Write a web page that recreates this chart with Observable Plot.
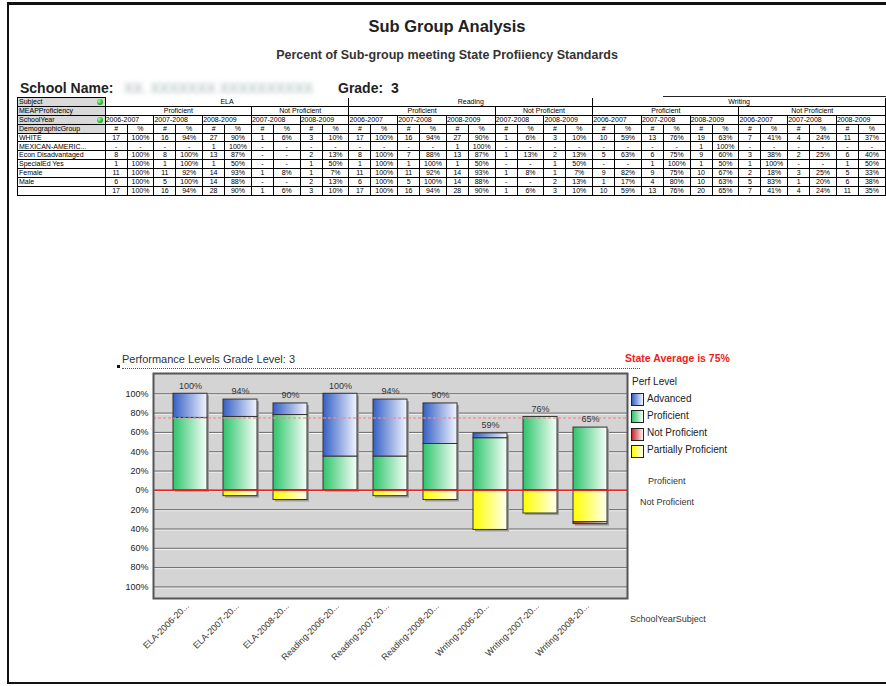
<!DOCTYPE html>
<html><head><meta charset="utf-8">
<script src="https://cdn.jsdelivr.net/npm/d3@7"></script>
<script src="https://cdn.jsdelivr.net/npm/@observablehq/plot@0.6"></script>
<style>
body{margin:0;width:886px;height:686px;overflow:hidden;background:#fff;font-family:"Liberation Sans",Arial,sans-serif;position:relative;color:#111}
.abs{position:absolute;white-space:nowrap}
#frame{position:absolute;left:7px;top:2px;width:900px;height:677px;border-left:2px solid #111;border-top:3px solid #111;border-bottom:2px solid #111}
#tbl{position:absolute;left:17px;top:97px;border-collapse:collapse;table-layout:fixed;font-size:7px;line-height:7.6px;color:#000}
#tbl td{border:1px solid #000;padding:0;height:7.9px;text-align:center;white-space:nowrap;overflow:hidden}
#tbl td.lab{text-align:left;padding-left:1px;position:relative}
#tbl td.hl{background:#d9d9d9}
#tbl td.subj{border-top:none;border-bottom:none}
.dot{position:absolute;right:2px;top:1px;width:6px;height:6px;border-radius:50%;background:radial-gradient(circle at 35% 35%,#9f9,#1a1 70%)}
.sw{position:absolute;left:631px;width:11px;height:11px;border:1px solid #222}
.lg{position:absolute;left:647px;font-size:10px;color:#222}
</style></head><body>
<div id="frame"></div>
<div class="abs" style="left:0;width:894px;text-align:center;top:17px;font-size:16.5px;font-weight:bold;color:#222">Sub Group Analysis</div>
<div class="abs" style="left:0;width:894px;text-align:center;top:48px;font-size:12.5px;font-weight:bold;color:#333">Percent of Sub-group meeting State Profiiency Standards</div>
<div class="abs" style="left:20px;top:80px;font-size:14px;font-weight:bold;color:#222">School Name:</div>
<div class="abs" style="left:124px;top:80px;font-size:14px;color:#9aa;filter:blur(2.5px)">XX. XXXXXXX XXXXXXXXXX</div>
<div class="abs" style="left:338px;top:80px;font-size:14px;font-weight:bold;color:#222">Grade:&nbsp; 3</div>
<div class="abs" style="left:663px;top:96px;width:230px;height:1px;background:#222"></div>
<table id="tbl"></table>

<div class="abs" style="left:117px;top:365px;width:3px;height:3px;background:#111"></div>
<div class="abs" style="left:122px;top:353px;font-size:11px;color:#333;width:518px;border-bottom:1px dotted #555;height:15px">Performance Levels Grade Level: 3</div>
<div class="abs" style="left:625px;top:352px;font-size:10.5px;font-weight:bold;color:#f01c1c">State Average is 75%</div>
<div id="chart" style="position:absolute;left:0;top:340px"></div>
<div class="lg" style="left:632px;top:376px">Perf Level</div>
<div id="legend"></div>
<div class="abs" style="left:648px;top:476px;font-size:9px;color:#333">Proficient</div>
<div class="abs" style="left:640px;top:497px;font-size:9px;color:#333">Not Proficient</div>
<div class="abs" style="left:630px;top:614px;font-size:9px;color:#333">SchoolYearSubject</div>

<script>
// ---------- table data ----------
const tableSubjects = ["ELA", "Reading", "Writing"];
const tableBlocks = [
  {subject: "ELA", level: "Proficient", years: ["2006-2007", "2007-2008", "2008-2009"]},
  {subject: "ELA", level: "Not Proficient", years: ["2007-2008", "2008-2009"]},
  {subject: "Reading", level: "Proficient", years: ["2006-2007", "2007-2008", "2008-2009"]},
  {subject: "Reading", level: "Not Proficient", years: ["2007-2008", "2008-2009"]},
  {subject: "Writing", level: "Proficient", years: ["2006-2007", "2007-2008", "2008-2009"]},
  {subject: "Writing", level: "Not Proficient", years: ["2006-2007", "2007-2008", "2008-2009"]}
];
const demographicGroups = ["WHITE", "MEXICAN-AMERIC...", "Econ Disadvantaged", "SpecialEd Yes", "Female", "Male", ""];
const rowWhite = ["17","100%","16","94%","27","90%","1","6%","3","10%","17","100%","16","94%","27","90%","1","6%","3","10%","10","59%","13","76%","19","63%","7","41%","4","24%","11","37%"];
const rowMexican = ["-","-","-","-","1","100%","-","-","-","-","-","-","-","-","1","100%","-","-","-","-","-","-","-","-","1","100%","-","-","-","-","-","-"];
const rowEcon = ["8","100%","8","100%","13","87%","-","-","2","13%","8","100%","7","88%","13","87%","1","13%","2","13%","5","63%","6","75%","9","60%","3","38%","2","25%","6","40%"];
const rowSpecialEd = ["1","100%","1","100%","1","50%","-","-","1","50%","1","100%","1","100%","1","50%","-","-","1","50%","-","-","1","100%","1","50%","1","100%","-","-","1","50%"];
const rowFemale = ["11","100%","11","92%","14","93%","1","8%","1","7%","11","100%","11","92%","14","93%","1","8%","1","7%","9","82%","9","75%","10","67%","2","18%","3","25%","5","33%"];
const rowMale = ["6","100%","5","100%","14","88%","-","-","2","13%","6","100%","5","100%","14","88%","-","-","2","13%","1","17%","4","80%","10","63%","5","83%","1","20%","6","38%"];
const rowTotal = ["17","100%","16","94%","28","90%","1","6%","3","10%","17","100%","16","94%","28","90%","1","6%","3","10%","10","59%","13","76%","20","65%","7","41%","4","24%","11","35%"];
const tableRows = [rowWhite, rowMexican, rowEcon, rowSpecialEd, rowFemale, rowMale, rowTotal];

// ---------- chart data ----------
const categories = ["ELA-2006-20...", "ELA-2007-20...", "ELA-2008-20...", "Reading-2006-20...", "Reading-2007-20...", "Reading-2008-20...", "Writing-2006-20...", "Writing-2007-20...", "Writing-2008-20..."];
const advanced = [25, 18, 12, 65, 59, 42, 5, 0, 0];
const proficient = [75, 76, 78, 35, 35, 48, 54, 76, 65];
const partiallyProficient = [0, 6, 10, 0, 6, 10, 41, 24, 33];
const notProficient = [0, 0, 0, 0, 0, 0, 0, 0, 2];
const totalLabels = ["100%", "94%", "90%", "100%", "94%", "90%", "59%", "76%", "65%"];
const stateAverage = 75;
const yTicks = [-100, -80, -60, -40, -20, 0, 20, 40, 60, 80, 100];
const levels = ["Proficient", "Advanced", "Partially Proficient", "Not Proficient"];
const legendLevels = ["Advanced", "Proficient", "Not Proficient", "Partially Proficient"];
const gradients = {
  "Advanced": ["#3560c4", "#f2f5ff"],
  "Proficient": ["#2fc46c", "#f7fff9"],
  "Not Proficient": ["#c42a2a", "#fff3f3"],
  "Partially Proficient": ["#ffff00", "#fffff2"]
};
const gradId = {"Advanced": "gAdv", "Proficient": "gPro", "Not Proficient": "gNot", "Partially Proficient": "gPar"};

// ---------- build table ----------
const tbl = document.getElementById("tbl");
let html = "<colgroup><col style='width:88px'>";
for (let i = 0; i < 16; i++) html += "<col style='width:22px'><col style='width:27px'>";
html += "</colgroup>";
html += "<tr><td class='lab hl'>Subject<span class='dot'></span></td>";
tableSubjects.forEach(s => {
  const span = tableBlocks.filter(b => b.subject === s).reduce((a, b) => a + b.years.length * 2, 0);
  html += `<td class='subj' colspan='${span}'>${s}</td>`;
});
html += "</tr><tr><td class='lab hl'>MEAPProficiency</td>";
tableBlocks.forEach(b => html += `<td colspan='${b.years.length * 2}'>${b.level}</td>`);
html += "</tr><tr><td class='lab hl'>SchoolYear<span class='dot'></span></td>";
tableBlocks.forEach(b => b.years.forEach(y => html += `<td colspan='2' style='text-align:left'>${y}</td>`));
html += "</tr><tr><td class='lab hl'>DemographicGroup</td>";
tableBlocks.forEach(b => b.years.forEach(() => html += "<td>#</td><td>%</td>"));
html += "</tr>";
tableRows.forEach((r, i) => {
  html += `<tr><td class='lab'>${demographicGroups[i]}</td>` + r.map(v => `<td>${v}</td>`).join("") + "</tr>";
});
tbl.innerHTML = html;

// ---------- legend ----------
const lg = document.getElementById("legend");
legendLevels.forEach((l, i) => {
  const g = gradients[l];
  const top = 393 + i * 17.3;
  lg.innerHTML += `<div class='sw' style='top:${top}px;background:linear-gradient(to right,${g[0]},${g[1]})'></div>` +
    `<div class='lg' style='top:${top - 0.5}px'>${l}</div>`;
});

// ---------- chart ----------
const long = categories.flatMap((c, i) => [
  {cat: c, level: "Proficient", v: proficient[i]},
  {cat: c, level: "Advanced", v: advanced[i]},
  {cat: c, level: "Partially Proficient", v: -partiallyProficient[i]},
  {cat: c, level: "Not Proficient", v: -notProficient[i]}
]).filter(d => d.v !== 0);
const totals = categories.map((c, i) => ({
  cat: c,
  top: proficient[i] + advanced[i],
  bottom: -(partiallyProficient[i] + notProficient[i]),
  label: totalLabels[i]
}));

const chart = Plot.plot({
  width: 886,
  height: 346,
  marginLeft: 153,
  marginRight: 259,
  marginTop: 33,
  marginBottom: 88,
  style: {fontFamily: "Liberation Sans, Arial, sans-serif", fontSize: "9px", color: "#333", background: "transparent"},
  x: {type: "band", domain: categories, padding: 0.33, label: null},
  y: {domain: [-112, 121], label: null},
  color: {type: "identity"},
  marks: [
    Plot.frame({fill: "#d4d4d4"}),
    Plot.ruleY(yTicks, {stroke: "#fafafa", strokeWidth: 1, dy: 1}),
    Plot.ruleY(yTicks, {stroke: "#6a6a6a", strokeWidth: 1}),
    Plot.barY(totals, {x: "cat", y1: "bottom", y2: "top", fill: "#9c9c9c", dx: 2, dy: 2}),
    Plot.barY(long, Plot.stackY({x: "cat", y: "v", z: "level", order: levels, fill: d => `url(#${gradId[d.level]})`, stroke: "#333", strokeWidth: 1})),
    Plot.ruleY([0], {stroke: "#e8231f", strokeWidth: 1.5}),
    Plot.ruleY([stateAverage], {stroke: "#f48a8a", strokeWidth: 1.5, strokeDasharray: "3,2", strokeOpacity: 0.8}),
    Plot.text(totals, {x: "cat", y: "top", text: "label", dy: -8, fill: "#333", fontSize: 9}),
    Plot.axisY({ticks: yTicks, tickFormat: d => Math.abs(d) + "%", tickSize: 0, tickPadding: 5, fill: "#222", fontSize: 9}),
    Plot.axisX({tickRotate: -45, tickSize: 0, tickPadding: 6, dx: -3, fill: "#333", fontSize: 9, label: null}),
    Plot.frame({stroke: "#555", strokeWidth: 2})
  ]
});
document.getElementById("chart").appendChild(chart);
const svg = d3.select(chart.tagName.toLowerCase() === "svg" ? chart : chart.querySelector("svg"));
const defs = svg.insert("defs", ":first-child");
Object.keys(gradients).forEach(k => {
  const lgd = defs.append("linearGradient").attr("id", gradId[k]).attr("x1", "0%").attr("x2", "100%").attr("y1", "0%").attr("y2", "0%");
  lgd.append("stop").attr("offset", "0%").attr("stop-color", gradients[k][0]);
  lgd.append("stop").attr("offset", "100%").attr("stop-color", gradients[k][1]);
});
</script>
</body></html>
